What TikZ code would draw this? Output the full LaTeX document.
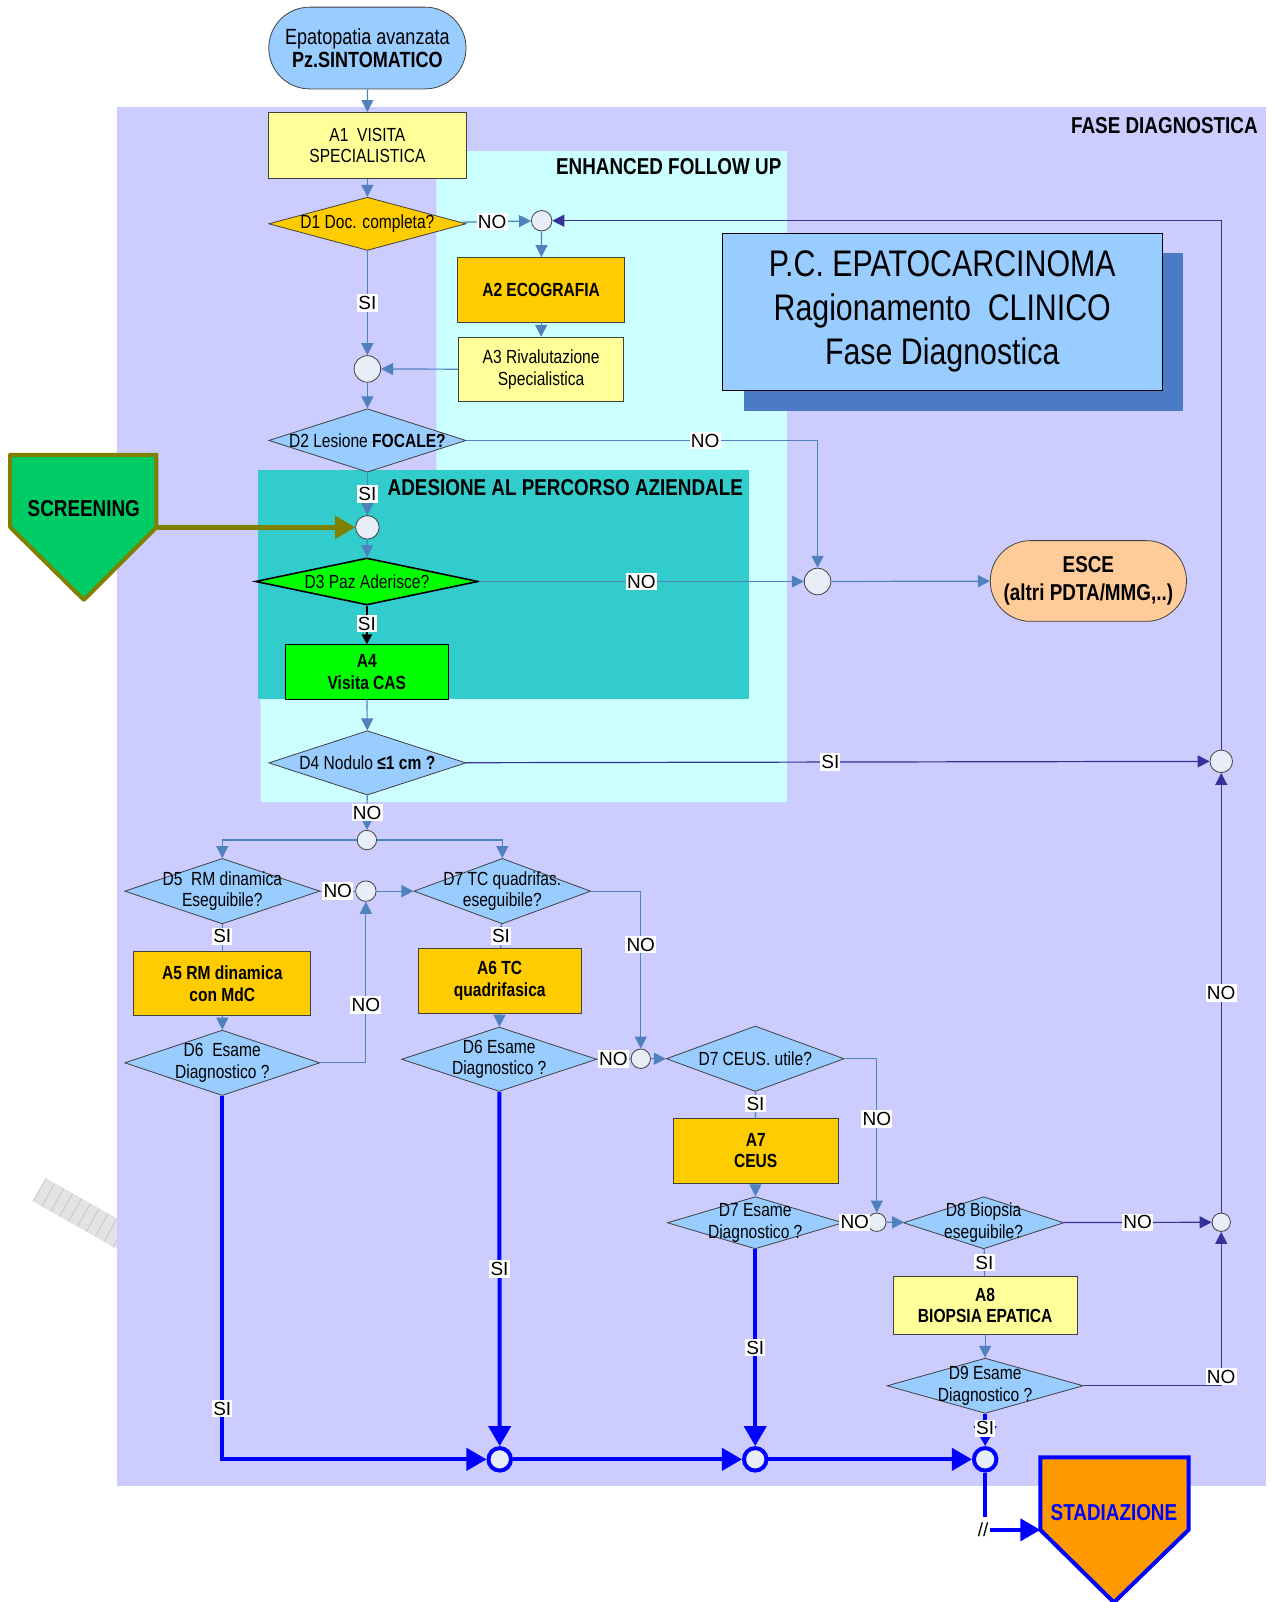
\documentclass[tikz,border=0pt]{standalone}
\usepackage{fontspec}
\setmainfont{Liberation Sans}
\newfontfamily\narrow{Liberation Sans}[FakeStretch=0.82]
\usepackage{tikz}
\usetikzlibrary{arrows.meta,shapes.geometric,shapes.misc}
\definecolor{fasebg}{HTML}{CCCCFF}
\definecolor{enhbg}{HTML}{CCFFFF}
\definecolor{adbg}{HTML}{33CCCC}
\definecolor{nodeblue}{HTML}{99CCFF}
\definecolor{yellowbox}{HTML}{FFFF99}
\definecolor{goldbox}{HTML}{FFCC00}
\definecolor{casgreen}{HTML}{00FF00}
\definecolor{scrgreen}{HTML}{00CC66}
\definecolor{scrborder}{HTML}{808000}
\definecolor{escefill}{HTML}{FFCC99}
\definecolor{stadorange}{HTML}{FF9900}
\definecolor{pureblue}{HTML}{0000FF}
\definecolor{lnblue}{HTML}{4F81BD}
\definecolor{lndark}{HTML}{333399}
\definecolor{shadowblue}{HTML}{4A7BC4}
\definecolor{juncfill}{HTML}{E8EEF8}

\begin{document}
\begin{tikzpicture}[x=0.511pt,y=-0.511pt,
  sz/.style 2 args={minimum width=#1*0.511pt,minimum height=#2*0.511pt},
  txt/.style={font=\narrow\fontsize{9.5}{10.8}\selectfont,align=center},
  boldtxt/.style={font=\narrow\bfseries\fontsize{9.5}{10.8}\selectfont,align=center},
  box/.style={rectangle,draw=black!75,inner sep=0pt,txt},
  dia/.style 2 args={diamond,draw=black!75,inner sep=0pt,sz={#1}{#2}},
  junc/.style={circle,draw=black!75,fill=juncfill,inner sep=0pt,minimum size=#1*0.511pt},
  junc/.default=20,
  bigjunc/.style={circle,draw=pureblue,line width=2pt,fill=juncfill,inner sep=0pt,minimum size=22*0.511pt},
  flow/.style={draw=lnblue,line width=0.6pt,-{Triangle[length=6pt,width=6pt]}},
  plain/.style={draw=lnblue,line width=0.6pt},
  darkflow/.style={flow,draw=lndark},
  bigflow/.style={draw=pureblue,line width=2pt,-{Triangle[length=10pt,width=11pt]}},
  lab/.style={fill=white,inner xsep=0.6pt,inner ysep=1pt,font=\fontsize{9.5}{11}\selectfont,text=black},
  head/.style={inner sep=0pt,font=\narrow\bfseries\fontsize{11.5}{13.8}\selectfont,align=center}]
\useasboundingbox (0,0) rectangle (1245.6,1567.6);
\begin{scope}[shift={(45,1153)},rotate=-29.5]
\fill[gray!22] (0,0) rectangle (130,26);
\draw[gray!50,line width=0.3pt,step=10] (0,0) grid (130,26);
\end{scope}
\fill[fasebg] (114,105) rectangle (1239,1454);
\fill[enhbg] (427,148) -- (770,148) -- (770,785) -- (255,785) -- (255,460) -- (427,460) -- cycle;
\fill[adbg] (252,460) rectangle (733,684);
\fill[shadowblue] (728,248) rectangle (1158,402);
\node[rectangle,draw=black,fill=nodeblue,sz={430}{154},font=\narrow\fontsize{18.5}{22}\selectfont,align=center] (title) at (922,305) {P.C. EPATOCARCINOMA\\Ragionamento\ \ CLINICO\\Fase Diagnostica};
\node[head,anchor=east] (fase) at (1231,123) {FASE DIAGNOSTICA};
\node[head,anchor=east] (enh) at (765,163) {ENHANCED FOLLOW UP};
\node[head,anchor=west] (ades) at (379,477) {ADESIONE AL PERCORSO AZIENDALE};

\node[rounded rectangle,draw=black!75,fill=nodeblue,inner sep=0pt,sz={193}{80},font=\narrow\fontsize{11}{11.5}\selectfont,align=center] (start) at (359.5,47) {Epatopatia avanzata\\\textbf{Pz.SINTOMATICO}};
\node[box,fill=yellowbox,sz={193}{65}] (a1) at (359.5,142.5) {A1\ \ VISITA\\SPECIALISTICA};
\node[dia={193}{52},fill=goldbox,label={[txt]center:D1 Doc. completa?}] (d1) at (359.5,219) {};
\node[junc] (j1) at (530,216) {};
\node[box,fill=goldbox,boldtxt,sz={163}{63}] (a2) at (529.5,283.5) {A2 ECOGRAFIA};
\node[box,fill=yellowbox,sz={161}{63}] (a3) at (529.5,361.5) {A3 Rivalutazione\\Specialistica};
\node[junc=26] (j2) at (359.5,361) {};
\node[dia={193}{62},fill=nodeblue,label={[txt]center:D2 Lesione \textbf{FOCALE?}}] (d2) at (359.5,431) {};
\node[junc=23] (j4) at (359.5,516) {};
\node[dia={218}{46},fill=casgreen,draw=black,line width=0.8pt,label={[txt]center:D3 Paz Aderisce?}] (d3) at (359,569) {};
\node[box,fill=casgreen,boldtxt,draw=black,sz={160}{53}] (a4) at (359,657.5) {A4\\Visita CAS};
\node[junc=26] (j3) at (800,569) {};
\node[rounded rectangle,draw=black!75,fill=escefill,inner sep=0pt,sz={192}{79},head] (esce) at (1065,568.5) {ESCE\\(altri PDTA/MMG,..)};
\node[dia={193}{63},fill=nodeblue,label={[txt]center:D4 Nodulo \textbf{≤1 cm ?}}] (d4) at (359.5,746.5) {};
\node[junc=22] (j5) at (1195,745) {};
\node[junc=19] (j6) at (359,822) {};
\node[dia={191}{64},fill=nodeblue,label={[txt]center:{D5\ \ RM dinamica\\Eseguibile?}}] (d5) at (217.5,872) {};
\node[junc] (j7) at (358,872) {};
\node[dia={173}{64},fill=nodeblue,label={[txt]center:{D7 TC quadrifas.\\eseguibile?}}] (d7a) at (491.5,872) {};
\node[box,fill=goldbox,boldtxt,sz={173}{63}] (a5) at (217.5,962.5) {A5 RM dinamica\\con MdC};
\node[box,fill=goldbox,boldtxt,sz={160}{64}] (a6) at (489,960) {A6 TC\\quadrifasica};
\node[dia={191}{64},fill=nodeblue,label={[txt]center:{D6\ \ Esame\\Diagnostico ?}}] (d6a) at (217.5,1040) {};
\node[dia={191}{63},fill=nodeblue,label={[txt]center:{D6 Esame\\Diagnostico ?}}] (d6b) at (488.5,1036.5) {};
\node[junc=19] (j8) at (627,1036) {};
\node[dia={174}{64},fill=nodeblue,label={[txt]center:D7 CEUS. utile?}] (d7b) at (739,1036) {};
\node[box,fill=goldbox,boldtxt,sz={161}{64}] (a7) at (739.5,1126) {A7\\CEUS};
\node[dia={172}{51},fill=nodeblue,label={[txt]center:{D7 Esame\\Diagnostico ?}}] (d7c) at (739,1196.5) {};
\node[junc=18] (j9) at (858,1196) {};
\node[dia={157}{51},fill=nodeblue,label={[txt]center:{D8 Biopsia\\eseguibile?}}] (d8) at (962.5,1196.5) {};
\node[junc=18] (j10) at (1195,1196) {};
\node[box,fill=yellowbox,boldtxt,sz={180}{57}] (a8) at (964,1277.5) {A8\\BIOPSIA EPATICA};
\node[dia={192}{54},fill=nodeblue,label={[txt]center:{D9 Esame\\Diagnostico ?}}] (d9) at (964,1356) {};
\node[bigjunc] (j11) at (489,1428) {};
\node[bigjunc] (j12) at (739,1428) {};
\node[bigjunc] (j13) at (964,1428) {};

\filldraw[fill=scrgreen,draw=scrborder,line width=2pt,line join=round] (10,445) -- (153,445) -- (153,516) -- (82,587) -- (10,516) -- cycle;
\node[head] (scr) at (82,498) {SCREENING};
\coordinate (scrout) at (153,516);
\filldraw[fill=stadorange,draw=pureblue,line width=2pt] (1018,1426) -- (1163,1426) -- (1163,1497) -- (1090,1568) -- (1018,1497) -- cycle;
\node[head,text=pureblue] (stad) at (1090,1480) {STADIAZIONE};
\coordinate (stadin) at (1018,1497);
\coordinate (cut) at (964,1484);

\draw[flow] (start) -- (a1);
\draw[flow] (a1) -- (d1);
\draw[flow] (d1) -- node[lab,pos=0.45]{NO} (j1);
\draw[flow] (j1) -- (a2);
\draw[flow] (a2) -- (a3);
\draw[flow] (a3) -- (j2);
\draw[flow] (d1) -- node[lab]{SI} (j2);
\draw[flow] (j2) -- (d2);
\draw[flow] (d2) -| node[lab,pos=0.34]{NO} (j3);
\draw[flow] (d2) -- node[lab]{SI} (j4);
\draw[draw=scrborder,line width=2.5pt,-{Triangle[length=10pt,width=11pt]}] (scrout) -- (j4);
\draw[flow] (j4) -- (d3);
\draw[flow] (d3) -- node[lab]{NO} (j3);
\draw[black,line width=1.2pt,-{Triangle[length=5pt,width=5pt]}] (d3) -- node[lab,pos=0.46]{SI} (a4);
\draw[flow] (j3) -- (esce);
\draw[flow] (a4) -- (d4);
\draw[darkflow] (d4) -- node[lab,pos=0.49]{SI} (j5);
\draw[darkflow] (j5) |- (j1);
\draw[flow] (d4) -- node[lab]{NO} (j6);
\draw[flow] (j6) -| (d5);
\draw[flow] (j6) -| (d7a);
\draw[plain] (d5) -- node[lab]{NO} (j7);
\draw[flow] (j7) -- (d7a);
\draw[plain] (d5) -- node[lab,pos=0.45]{SI} (a5);
\draw[flow] (a5) -- (d6a);
\draw[flow] (d6a) -| node[lab,pos=0.68]{NO} (j7);
\draw[plain] (d7a) -- node[lab]{SI} (a6);
\draw[flow] (a6) -- (d6b);
\draw[flow] (d7a) -| node[lab,pos=0.67]{NO} (j8);
\draw[plain] (d6b) -- node[lab]{NO} (j8);
\draw[flow] (j8) -- (d7b);
\draw[plain] (d7b) -- node[lab,pos=0.46]{SI} (a7);
\draw[flow] (a7) -- (d7c);
\draw[flow] (d7b) -| node[lab,pos=0.695]{NO} (j9);
\draw[plain] (d7c) -- node[lab]{NO} (j9);
\draw[flow] (j9) -- (d8);
\draw[darkflow] (d8) -- node[lab]{NO} (j10);
\draw[plain] (d8) -- node[lab]{SI} (a8);
\draw[flow] (a8) -- (d9);
\draw[darkflow] (d9) -| node[lab,pos=0.53]{NO} (j10);
\draw[darkflow] (j10) -- node[lab]{NO} (j5);
\draw[bigflow] (d6a) |- node[lab,pos=0.43]{SI} (j11);
\draw[bigflow] (d6b) -- node[lab]{SI} (j11);
\draw[bigflow] (j11) -- (j12);
\draw[bigflow] (d7c) -- node[lab]{SI} (j12);
\draw[bigflow] (j12) -- (j13);
\draw[bigflow] (d9) -- node[lab,pos=0.45]{SI} (j13);
\draw[draw=pureblue,line width=2pt] (j13) -- (cut);
\node[inner sep=0.5pt,font=\fontsize{9.5}{11}\selectfont] (slash) at (962,1497) {//};
\draw[bigflow] (slash.east) -- (stadin);
\end{tikzpicture}
\end{document}
